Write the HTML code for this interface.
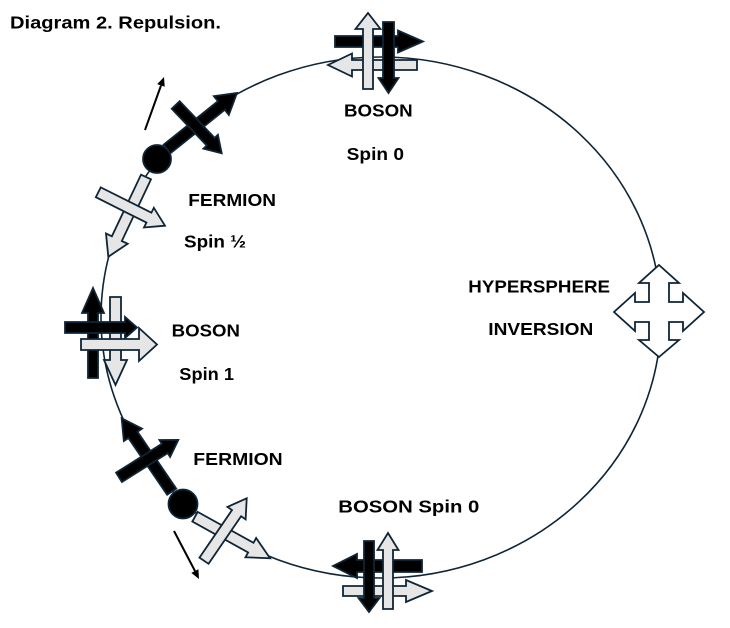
<!DOCTYPE html>
<html>
<head>
<meta charset="utf-8">
<style>
  html, body { margin: 0; padding: 0; background: #fff; }
  body { width: 730px; height: 628px; overflow: hidden; }
  svg { display: block; }
  text { font-family: "Liberation Sans", Arial, sans-serif; font-weight: bold; font-size: 17.5px; fill: #000; }
</style>
</head>
<body>
<svg width="730" height="628" viewBox="0 0 730 628" xmlns="http://www.w3.org/2000/svg">
  <!-- main ring -->
  <ellipse cx="381" cy="317.5" rx="280" ry="260.5" fill="none" stroke="#0f2536" stroke-width="1.6"/>

  <g stroke="#0f2536" stroke-width="1.8" stroke-linejoin="miter">
    <!-- TOP BOSON -->
    <polygon fill="#000" points="335,36 398,36 398,30.5 423,41.5 398,52.5 398,47 335,47"/>
    <polygon fill="#e6e6e6" points="417,60 352,60 352,53.5 328,65 352,76.5 352,70 417,70"/>
    <polygon fill="#e6e6e6" points="363,89 363,29 355.5,29 368,13 380.5,29 373,29 373,89"/>
    <polygon fill="#000" points="383,22 383,78 378.5,78 388.5,93 398.5,78 394,78 394,22"/>

    <!-- LEFT BOSON -->
    <polygon fill="#000" points="88,378 88,313 82,313 93,288 104,313 98,313 98,378"/>
    <polygon fill="#e6e6e6" points="110,297 110,360 104,360 115.5,385 127,360 121,360 121,297"/>
    <polygon fill="#000" points="65,322 125,322 125,317 137,327.5 125,338 125,333 65,333"/>
    <polygon fill="#e6e6e6" points="81,339 139,339 139,328 157,344.5 139,361 139,350 81,350"/>

    <!-- BOTTOM BOSON -->
    <polygon fill="#000" points="422,560 357,560 357,554 333,566 357,578 357,572 422,572"/>
    <polygon fill="#e6e6e6" points="343,586 406,586 406,580 432,591 406,602 406,596 343,596"/>
    <polygon fill="#000" points="364,541 364,598 358.5,598 369,612 379.5,598 374,598 374,541"/>
    <polygon fill="#e6e6e6" points="383,609 383,550 377.5,550 388,533 398.5,550 393,550 393,609"/>

    <!-- TOP-LEFT FERMION -->
    <polygon fill="#000" transform="translate(167,149) rotate(-38.66)" points="0,-5.5 69.6,-5.5 69.6,-12 89.6,0 69.6,12 69.6,5.5 0,5.5"/>
    <polygon fill="#000" transform="translate(175.7,105) rotate(46.4)" points="0,-5.5 50.7,-5.5 50.7,-10 66.7,0 50.7,10 50.7,5.5 0,5.5"/>
    <polygon fill="#e6e6e6" transform="translate(146,177) rotate(115.3)" points="0,-5.5 68.2,-5.5 68.2,-12 88.2,0 68.2,12 68.2,5.5 0,5.5"/>
    <polygon fill="#e6e6e6" transform="translate(98.3,192.3) rotate(26.6)" points="0,-5.5 56.6,-5.5 56.6,-11 74.6,0 56.6,11 56.6,5.5 0,5.5"/>
    <circle cx="157" cy="159" r="14" fill="#000"/>

    <!-- BOTTOM-LEFT FERMION -->
    <polygon fill="#000" transform="translate(171.7,491.7) rotate(-124.3)" points="0,-5.5 68.8,-5.5 68.8,-11 88.8,0 68.8,11 68.8,5.5 0,5.5"/>
    <polygon fill="#000" transform="translate(119,477.3) rotate(-32.2)" points="0,-5.5 54.1,-5.5 54.1,-10 70.1,0 54.1,10 54.1,5.5 0,5.5"/>
    <polygon fill="#e6e6e6" transform="translate(195,516.7) rotate(29)" points="0,-5.5 63.8,-5.5 63.8,-11 85.8,0 63.8,11 63.8,5.5 0,5.5"/>
    <polygon fill="#e6e6e6" transform="translate(204,560.7) rotate(-55.6)" points="0,-5.5 57.6,-5.5 57.6,-11 75.6,0 57.6,11 57.6,5.5 0,5.5"/>
    <circle cx="183" cy="504" r="14.5" fill="#000"/>

    <!-- HYPERSPHERE quad arrow -->
    <polygon fill="#fff" points="659,265 679,283 669,283 669,302 683,302 683,293 704,312 683,331 683,322 669,322 669,340 679,340 659,357 639,340 649,340 649,322 635,322 635,331 614,312 635,293 635,302 649,302 649,283 639,283"/>
  </g>

  <!-- thin arrows -->
  <line x1="145" y1="130" x2="161" y2="85.5" stroke="#000" stroke-width="2"/>
  <polygon fill="#000" points="164,77 164.7,86.8 157.2,84.1"/>
  <line x1="174" y1="531" x2="195" y2="571" stroke="#000" stroke-width="2"/>
  <polygon fill="#000" points="199,579 191.3,572.9 198.4,569.2"/>

  <!-- labels -->
  <text x="10" y="28.3" textLength="211" lengthAdjust="spacingAndGlyphs">Diagram 2. Repulsion.</text>
  <text x="344" y="116.7" textLength="68.7" lengthAdjust="spacingAndGlyphs">BOSON</text>
  <text x="346.7" y="160" textLength="57.3" lengthAdjust="spacingAndGlyphs">Spin 0</text>
  <text x="188.3" y="206" textLength="87.7" lengthAdjust="spacingAndGlyphs">FERMION</text>
  <text x="184" y="247.7" textLength="62" lengthAdjust="spacingAndGlyphs">Spin ½</text>
  <text x="171.7" y="336.7" textLength="68.3" lengthAdjust="spacingAndGlyphs">BOSON</text>
  <text x="179.3" y="380" textLength="54.7" lengthAdjust="spacingAndGlyphs">Spin 1</text>
  <text x="193.3" y="465" textLength="89.4" lengthAdjust="spacingAndGlyphs">FERMION</text>
  <text x="338.3" y="512.7" textLength="141" lengthAdjust="spacingAndGlyphs">BOSON Spin 0</text>
  <text x="468.3" y="292.7" textLength="141.7" lengthAdjust="spacingAndGlyphs">HYPERSPHERE</text>
  <text x="488.3" y="335" textLength="105" lengthAdjust="spacingAndGlyphs">INVERSION</text>
</svg>
</body>
</html>
